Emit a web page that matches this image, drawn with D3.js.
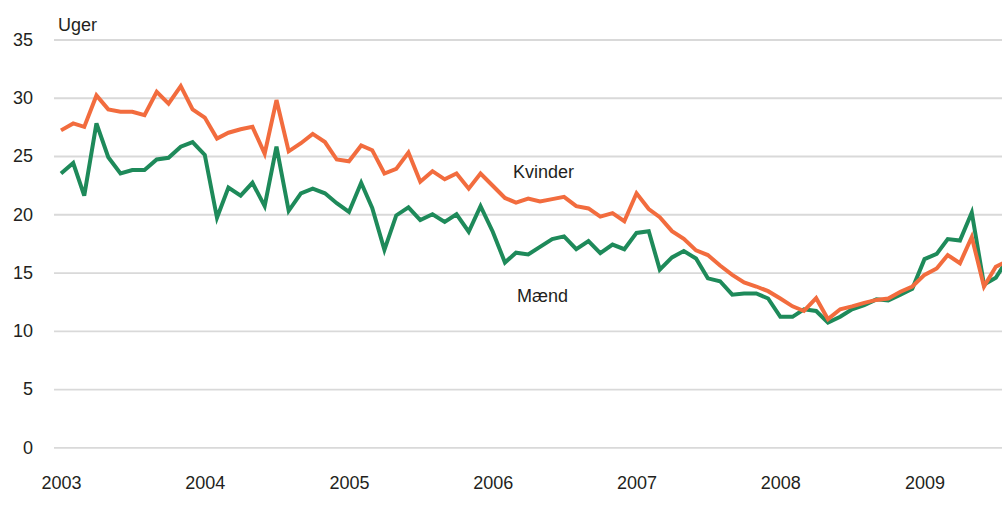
<!DOCTYPE html>
<html>
<head>
<meta charset="utf-8">
<script src="https://cdn.jsdelivr.net/npm/d3@7"></script>
<style>
  body { margin: 0; background: #fff; }
  svg { display: block; }
  text { font-family: "Liberation Sans", Arial, sans-serif; fill: #231f20; }
</style>
</head>
<body>
<div id="chart"></div>
<script>
// Kvinder / Mænd, uger, monthly from Jan 2003
const kvinder = [27.2, 27.8, 27.5, 30.2, 29.0, 28.8, 28.8, 28.5, 30.5, 29.5, 31.0, 29.0,
  28.3, 26.5, 27.0, 27.3, 27.5, 25.2, 29.8, 25.4, 26.1, 26.9, 26.2, 24.7,
  24.55, 25.9, 25.5, 23.5, 23.9, 25.3, 22.8, 23.7, 23.0, 23.5, 22.2, 23.5,
  22.45, 21.4, 21.0, 21.35, 21.1, 21.3, 21.5, 20.7, 20.5, 19.8, 20.1, 19.4,
  21.8, 20.45, 19.75, 18.55, 17.9, 16.9, 16.5, 15.6, 14.8, 14.15, 13.8, 13.4,
  12.77, 12.1, 11.7, 12.8, 11.0, 11.85, 12.1, 12.4, 12.65, 12.77, 13.35, 13.8,
  14.8, 15.35, 16.5, 15.8, 18.05, 13.8, 15.5, 16.0]
const maend = [23.5, 24.4, 21.6, 27.8, 24.9, 23.5, 23.8, 23.8, 24.7, 24.85, 25.8, 26.2,
  25.1, 19.7, 22.3, 21.6, 22.7, 20.7, 25.8, 20.3, 21.8, 22.2, 21.8, 20.95,
  20.2, 22.7, 20.55, 16.95, 19.9, 20.6, 19.5, 20.0, 19.35, 20.0, 18.5, 20.7,
  18.5, 15.86, 16.7, 16.55, 17.2, 17.87, 18.1, 17.0, 17.7, 16.67, 17.4, 17.0,
  18.4, 18.55, 15.25, 16.3, 16.85, 16.2, 14.5, 14.25, 13.1, 13.2, 13.2, 12.77,
  11.2, 11.2, 11.85, 11.7, 10.7, 11.2, 11.85, 12.2, 12.7, 12.6, 13.1, 13.6,
  16.15, 16.6, 17.87, 17.75, 20.15, 13.97, 14.55, 16.2]
const months = d3.timeMonth.range(new Date(2003, 0, 1), new Date(2009, 8, 1))
const yTicks = [0, 5, 10, 15, 20, 25, 30, 35]
const yearTicks = [2003, 2004, 2005, 2006, 2007, 2008, 2009]

const width = 1002, height = 520
const svg = d3.select("#chart").append("svg")
  .attr("width", width)
  .attr("height", height)

let x = d3.scaleTime()
  .domain([new Date(2003, 0, 1), new Date(2009, 0, 1)])
  .range([61, 924.5])
let y = d3.scaleLinear()
  .domain([0, 35])
  .range([447.3, 39.5])

// gridlines + y labels
let yAxis = svg.append("g")
  .attr("transform", "translate(54,0)")
  .call(d3.axisLeft(y).tickValues(yTicks).tickSize(-(width - 54)).tickPadding(21))
yAxis.select(".domain").remove()
yAxis.selectAll("line").attr("stroke", "#d9d9d9").attr("stroke-width", 1.8)
yAxis.selectAll("text").style("font-size", "18px").attr("fill", "#231f20")
  .attr("font-family", "Liberation Sans, Arial, sans-serif")

// x labels
let xAxis = svg.append("g")
  .attr("transform", "translate(0,467)")
  .call(d3.axisBottom(x)
    .tickValues(yearTicks.map(function(d) { return new Date(d, 0, 1) }))
    .tickFormat(d3.timeFormat("%Y"))
    .tickSize(0).tickPadding(9))
xAxis.select(".domain").remove()
xAxis.selectAll("text").style("font-size", "18px").attr("fill", "#231f20")
  .attr("font-family", "Liberation Sans, Arial, sans-serif")

let line = d3.line()
  .x(function(d, i) { return x(months[i]) })
  .y(function(d) { return y(d) })

svg.append("path")
  .datum(maend)
  .attr("d", line)
  .attr("fill", "none")
  .attr("stroke", "#1e8a5a")
  .attr("stroke-width", 4)
  .attr("stroke-linejoin", "miter")

svg.append("path")
  .datum(kvinder)
  .attr("d", line)
  .attr("fill", "none")
  .attr("stroke", "#f26c3e")
  .attr("stroke-width", 4)
  .attr("stroke-linejoin", "miter")

svg.append("text").attr("x", 58).attr("y", 31).style("font-size", "18px").text("Uger")
svg.append("text").attr("x", 513).attr("y", 178).style("font-size", "18px").text("Kvinder")
svg.append("text").attr("x", 517).attr("y", 302).style("font-size", "18px").text("Mænd")
</script>
</body>
</html>
